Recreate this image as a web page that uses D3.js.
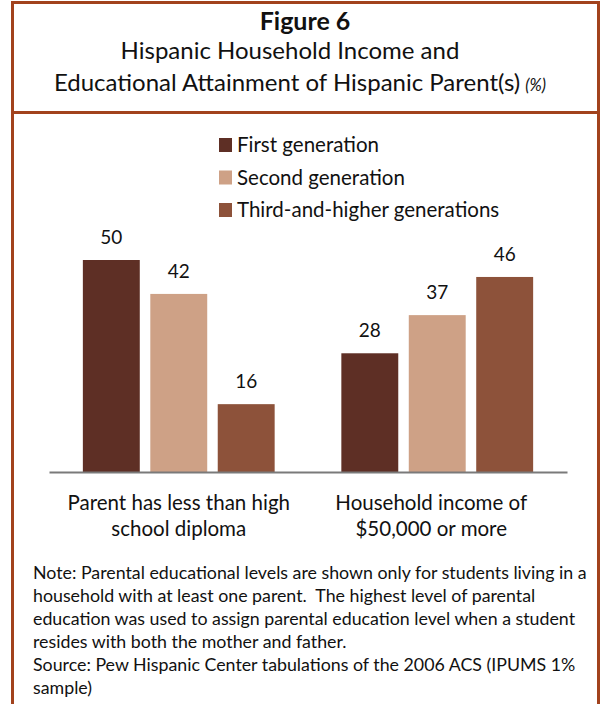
<!DOCTYPE html>
<html>
<head>
<meta charset="utf-8">
<script src="https://cdn.jsdelivr.net/npm/d3@7/dist/d3.min.js"></script>
<style>
  html, body { margin: 0; padding: 0; background: #fff; }
  svg { display: block; }
  text { font-family: Lato, "Open Sans", "Noto Sans", sans-serif; fill: #111; }
</style>
</head>
<body>
<svg id="chart" width="601" height="704"></svg>
<script>
// ---- data ----
const categories = ["Parent has less than high school diploma", "Household income of $50,000 or more"];
const categoryLines = [["Parent has less than high", "school diploma"], ["Household income of", "$50,000 or more"]];
const seriesNames = ["First generation", "Second generation", "Third-and-higher generations"];
const firstGeneration = [50, 28];
const secondGeneration = [42, 37];
const thirdGeneration = [16, 46];
const seriesColors = ["#5e2f25", "#cea186", "#8d523a"];
const titleLines = ["Figure 6", "Hispanic Household Income and", "Educational Attainment of Hispanic Parent(s)"];
const titleUnit = "(%)";
const noteLines = [
  "Note: Parental educational levels are shown only for students living in a",
  "household with at least one parent.  The highest level of parental",
  "education was used to assign parental education level when a student",
  "resides with both the mother and father.",
  "Source: Pew Hispanic Center tabulations of the 2006 ACS (IPUMS 1%",
  "sample)"
];

const seriesValues = [firstGeneration, secondGeneration, thirdGeneration];

const svg = d3.select("#chart");
const borderColor = "#a2421d";

// frames
svg.append("rect").attr("x", 12.5).attr("y", 2.5).attr("width", 586).attr("height", 110)
  .attr("fill", "none").attr("stroke", borderColor).attr("stroke-width", 3);
svg.append("rect").attr("x", 12.5).attr("y", 112.5).attr("width", 586).attr("height", 700)
  .attr("fill", "none").attr("stroke", borderColor).attr("stroke-width", 3);

// title
svg.append("text").attr("x", 305).attr("y", 30).attr("text-anchor", "middle")
  .style("font-size", "25px").style("font-weight", "bold").text(titleLines[0]);
svg.append("text").attr("x", 290).attr("y", 59).attr("text-anchor", "middle")
  .style("font-size", "24px").text(titleLines[1]);
const t3 = svg.append("text").attr("x", 300).attr("y", 91).attr("text-anchor", "middle")
  .style("font-size", "24px");
t3.append("tspan").text(titleLines[2]);
t3.append("tspan").attr("dx", 5).style("font-size", "16.5px").style("font-style", "italic").text(titleUnit);

// scales
const x0 = d3.scaleBand().domain(categories).range([49, 567]).paddingInner(0.258).paddingOuter(0.131);
const x1 = d3.scaleBand().domain(seriesNames).range([0, x0.bandwidth()]).paddingInner(0.156);
const y = d3.scaleLinear().domain([0, 50]).range([472, 260]);
const color = d3.scaleOrdinal().domain(seriesNames).range(seriesColors);

// bars
const flat = [];
categories.forEach((c, ci) => seriesNames.forEach((s, si) => flat.push({ c, s, v: seriesValues[si][ci] })));

svg.append("g").selectAll("rect").data(flat).join("rect")
  .attr("x", d => x0(d.c) + x1(d.s))
  .attr("y", d => y(d.v))
  .attr("width", x1.bandwidth())
  .attr("height", d => y(0) - y(d.v))
  .attr("fill", d => color(d.s));

svg.append("g").selectAll("text").data(flat).join("text")
  .attr("x", d => x0(d.c) + x1(d.s) + x1.bandwidth() / 2)
  .attr("y", d => y(d.v) - 16)
  .attr("text-anchor", "middle")
  .style("font-size", "19px")
  .text(d => d.v);

// axis
const axis = svg.append("g").attr("transform", `translate(0,${y(0)})`)
  .call(d3.axisBottom(x0).tickSize(0).tickSizeOuter(0).tickFormat(""));
axis.select(".domain").attr("stroke", "#7a7a7a").attr("stroke-width", 2);

// category labels
const labelShift = [0, -6];
categories.forEach((c, ci) => {
  const t = svg.append("text").attr("text-anchor", "middle").style("font-size", "20.5px");
  categoryLines[ci].forEach((ln, li) => {
    t.append("tspan").attr("x", x0(c) + x0.bandwidth() / 2 + labelShift[ci]).attr("y", 510 + li * 26).text(ln);
  });
});

// legend
const lg = svg.append("g");
seriesNames.forEach((s, i) => {
  const yy = 138 + i * 32.5;
  lg.append("rect").attr("x", 219).attr("y", yy).attr("width", 13).attr("height", 14).attr("fill", color(s));
  lg.append("text").attr("x", 237).attr("y", yy + 14).style("font-size", "20.5px").text(s);
});

// notes
noteLines.forEach((ln, i) => {
  svg.append("text").attr("x", 33).attr("y", 579 + i * 23).style("font-size", "17.8px")
    .attr("xml:space", "preserve").text(ln);
});
</script>
</body>
</html>
